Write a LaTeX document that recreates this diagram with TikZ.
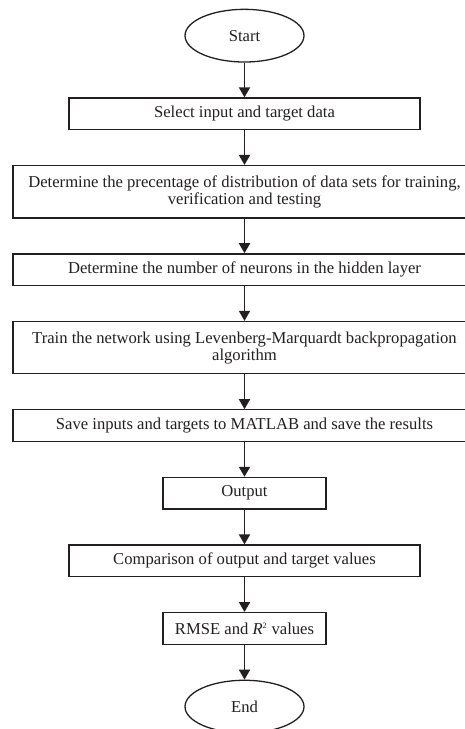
\documentclass[tikz,border=0pt]{standalone}
\usepackage{fontspec}
\setmainfont{Liberation Serif}
\usepackage{xcolor}
\usepackage{tikz}
\usetikzlibrary{arrows.meta,positioning,shapes.geometric}
\definecolor{inkblack}{RGB}{35,31,32}

\begin{document}
\begin{tikzpicture}[node distance=1.04cm,>={Triangle[length=3mm,width=3.3mm]},every node/.style={font=\fontsize{14.2}{14.7}\selectfont,text=inkblack}]
\tikzstyle{term}=[draw=inkblack,line width=1.1pt,ellipse,minimum width=3.57cm,minimum height=1.58cm,inner sep=0pt]
\tikzstyle{stage}=[draw=inkblack,line width=1.1pt,align=center,minimum width=10.53cm,minimum height=0.95cm,inner sep=2pt]
\tikzstyle{widestage}=[draw=inkblack,line width=1.1pt,align=center,minimum width=13.89cm,minimum height=0.95cm,inner sep=2pt]
\tikzstyle{smallstage}=[draw=inkblack,line width=1.1pt,align=center,minimum width=4.89cm,minimum height=0.95cm,inner sep=2pt]
\tikzstyle{flow}=[->,draw=inkblack,line width=1.6pt]
\useasboundingbox (0,0) rectangle (13.95,-21.87);
\node[term] (start) at (7.335,-1.07) {Start};
\node[stage,below=of start] (sel) {Select input and target data};
\node[widestage,minimum height=1.57cm,below=of sel] (perc) {Determine the precentage of distribution of data sets for training,\\verification and testing};
\node[widestage,below=of perc] (neur) {Determine the number of neurons in the hidden layer};
\node[widestage,minimum height=1.57cm,below=of neur] (train) {Train the network using Levenberg-Marquardt backpropagation\\algorithm};
\node[widestage,below=of train] (save) {Save inputs and targets to MATLAB and save the results};
\node[smallstage,below=of save] (out) {Output};
\node[stage,below=of out] (comp) {Comparison of output and target values};
\node[smallstage,below=of comp] (rmse) {RMSE and {\itshape R}\textsuperscript{\fontsize{7}{7}\selectfont 2} values};
\node[term,below=of rmse] (stop) {End};
\draw[flow] (start)--(sel);
\draw[flow] (sel)--(perc);
\draw[flow] (perc)--(neur);
\draw[flow] (neur)--(train);
\draw[flow] (train)--(save);
\draw[flow] (save)--(out);
\draw[flow] (out)--(comp);
\draw[flow] (comp)--(rmse);
\draw[flow] (rmse)--(stop);
\end{tikzpicture}
\end{document}
